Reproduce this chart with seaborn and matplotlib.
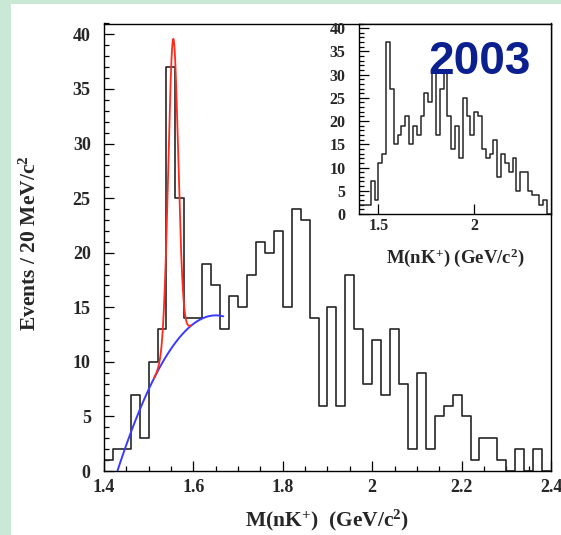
import numpy as np
import pandas as pd
import matplotlib
matplotlib.use("Agg")
import matplotlib.pyplot as plt
import seaborn as sns
from matplotlib.patches import Rectangle
from matplotlib.ticker import MultipleLocator, FixedLocator, FuncFormatter

# 20 MeV/c^2 bins between 1.40 and 2.40 GeV/c^2
bin_lo = 1.40
bin_hi = 2.40
n_bins = 50

# Events per bin, main spectrum
main_counts = [1, 2, 2, 7, 3, 10, 13, 37, 25, 14,
               14, 19, 17, 13, 16, 15, 18, 21, 20, 22,
               15, 24, 23, 14, 6, 15, 6, 18, 13, 8,
               12, 7, 13, 8, 2, 9, 2, 5, 6, 7,
               5, 1, 3, 3, 1, 0, 2, 0, 2, 0]

# Events per bin, inset spectrum
inset_counts = [2, 2, 2, 7, 3, 11, 13, 37, 27, 15,
                17, 19, 21, 15, 19, 17, 21, 26, 24, 31,
                17, 27, 31, 21, 14, 19, 12, 25, 21, 17,
                22, 21, 14, 12, 13, 16, 8, 13, 11, 9,
                12, 5, 9, 9, 5, 4, 4, 2, 3, 0]

# Fit: cubic background in (m - bkg_origin) plus a Gaussian peak
bkg_origin = 1.427
bkg_coeffs = [-0.40, 126.78, -253.64, -90.1]
bkg_range = (1.425, 1.667)
peak_mass = 1.555
peak_sigma = 0.011
peak_amp = 28.1
signal_range = (1.512, 1.595)

main_xticks = [1.4, 1.6, 1.8, 2.0, 2.2, 2.4]
inset_xticks = [1.5, 2.0]
yticks = [0, 5, 10, 15, 20, 25, 30, 35, 40]

W, H = 561, 535
sns.set_style("ticks")
plt.rcParams["font.family"] = ["Liberation Serif", "DejaVu Serif"]
plt.rcParams["font.weight"] = "bold"
plt.rcParams["mathtext.default"] = "regular"

fig = plt.figure(figsize=(W / 100, H / 100), dpi=100, facecolor="white")

# light green slide border
green = "#c9e8d6"
fig.add_artist(Rectangle((0, 0), 11 / W, 1, transform=fig.transFigure,
                         facecolor=green, edgecolor="none", zorder=-5))
fig.add_artist(Rectangle((0, 1 - 4 / H), 1, 4 / H, transform=fig.transFigure,
                         facecolor=green, edgecolor="none", zorder=-5))

ax_l, ax_r, ax_t, ax_b = 103.9, 551.0, 23.5, 471.0
ax = fig.add_axes([ax_l / W, 1 - ax_b / H, (ax_r - ax_l) / W, (ax_b - ax_t) / H])

edges = np.linspace(bin_lo, bin_hi, n_bins + 1)
centers = 0.5 * (edges[:-1] + edges[1:])
df_main = pd.DataFrame({"mass": centers, "events": main_counts})
df_inset = pd.DataFrame({"mass": centers, "events": inset_counts})

hist_color = "#262626"
sns.histplot(data=df_main, x="mass", weights="events", bins=n_bins,
             binrange=(bin_lo, bin_hi), element="step", fill=False,
             color=hist_color, linewidth=1.2, ax=ax)


def background(m):
    t = m - bkg_origin
    return sum(c * t ** i for i, c in enumerate(bkg_coeffs))


def signal_plus_bkg(m):
    return background(m) + peak_amp * np.exp(-0.5 * ((m - peak_mass) / peak_sigma) ** 2)


mb = np.linspace(*bkg_range, 300)
ax.plot(mb, background(mb), color="#3a3aff", lw=1.4, zorder=4)
ms = np.linspace(*signal_range, 300)
ax.plot(ms, signal_plus_bkg(ms), color="#ff2a1a", lw=1.3, zorder=5)

ax.set_xlim(bin_lo, bin_hi)
ax.set_ylim(0, 41)
ax.xaxis.set_major_locator(FixedLocator(main_xticks))
ax.xaxis.set_minor_locator(MultipleLocator(0.05))
ax.yaxis.set_major_locator(FixedLocator(yticks))
ax.yaxis.set_minor_locator(MultipleLocator(1))
ax.xaxis.set_major_formatter(FuncFormatter(lambda v, p: f"{v:g}"))
ax.tick_params(axis="both", which="both", direction="in", top=False, right=False,
               color="black", width=0.9)
ax.tick_params(axis="both", which="major", length=7.5, labelsize=13)
ax.tick_params(axis="both", which="minor", length=3.8)
ax.tick_params(axis="x", which="major", pad=5.5)
ax.tick_params(axis="y", which="major", pad=9.5)
for s in ax.spines.values():
    s.set_color("black")
    s.set_linewidth(1.0)
ax.set_xlabel("M(nK$^{+}$)  (GeV/c$^{2}$)", fontsize=15.5, fontweight="bold")
ax.xaxis.set_label_coords(0.5, -0.083)
ax.xaxis.label.set_va("top")
ax.set_ylabel("")
fig.text(30 / W, 1 - 243 / H, "Events / 20 MeV/c$^{2}$", rotation=90,
         ha="center", va="center", fontsize=15.5, fontweight="bold")

# inset with the full spectrum
in_l, in_r, in_t, in_b = 359.3, 551.0, 23.5, 214.0
axi = fig.add_axes([in_l / W, 1 - in_b / H, (in_r - in_l) / W, (in_b - in_t) / H])
axi.set_facecolor("white")
sns.histplot(data=df_inset, x="mass", weights="events", bins=n_bins,
             binrange=(bin_lo, bin_hi), element="step", fill=False,
             color=hist_color, linewidth=1.1, ax=axi)
axi.set_xlim(bin_lo, bin_hi)
axi.set_ylim(0, 41)
axi.xaxis.set_major_locator(FixedLocator(inset_xticks))
axi.yaxis.set_major_locator(FixedLocator(yticks))
axi.yaxis.set_minor_locator(MultipleLocator(1))
axi.xaxis.set_major_formatter(FuncFormatter(lambda v, p: f"{v:g}"))
axi.tick_params(axis="both", which="both", direction="in", top=False, right=False,
                color="black", width=0.9)
axi.tick_params(axis="both", which="major", length=7, labelsize=11.5)
axi.tick_params(axis="both", which="minor", length=3.8)
axi.tick_params(axis="x", which="major", pad=3)
axi.tick_params(axis="y", which="major", pad=10)
for s in axi.spines.values():
    s.set_color("black")
    s.set_linewidth(1.0)
axi.set_xlabel("M(nK$^{+}$) (GeV/c$^{2}$)", fontsize=13.5, fontweight="bold")
axi.xaxis.set_label_coords(0.5, -0.17)
axi.xaxis.label.set_va("top")
axi.set_ylabel("")

fig.text(480 / W, 1 - 73.5 / H, "2003", ha="center", va="baseline",
         fontsize=33, fontweight="bold", color="#0c1f8e",
         family=["Liberation Sans", "DejaVu Sans"], zorder=10)

fig.savefig("out.png", dpi=100, facecolor="white")
